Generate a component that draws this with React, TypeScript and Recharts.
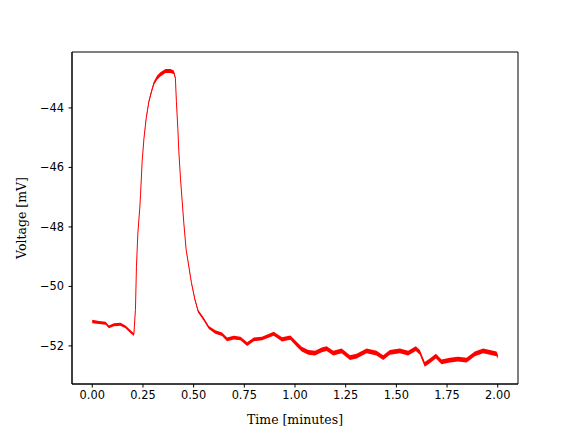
import { Line, Area, ComposedChart, XAxis, YAxis, ReferenceArea } from "recharts";

// time in minutes
const time = [
  0.0, 0.033, 0.066, 0.082, 0.107, 0.139, 0.164, 0.189, 0.205, 0.213,
  0.218, 0.225, 0.235, 0.238, 0.246, 0.255, 0.266, 0.279, 0.292, 0.304,
  0.32, 0.336, 0.361, 0.386, 0.402, 0.41, 0.415, 0.422, 0.427, 0.435,
  0.443, 0.452, 0.463, 0.476, 0.489, 0.506, 0.522, 0.55, 0.575, 0.607,
  0.64, 0.665, 0.698, 0.731, 0.764, 0.797, 0.837, 0.895, 0.936, 0.977,
  1.008, 1.033, 1.066, 1.099, 1.132, 1.156, 1.189, 1.23, 1.271, 1.304,
  1.353, 1.402, 1.435, 1.468, 1.517, 1.558, 1.596, 1.616, 1.64, 1.665,
  1.695, 1.723, 1.764, 1.804, 1.846, 1.887, 1.928, 1.961, 1.994, 2.0,
];

// mean voltage (mV)
const voltage = [
  -51.18, -51.21, -51.24, -51.36, -51.29, -51.27, -51.36, -51.52, -51.62, -50.77,
  -49.32, -48.2, -47.3, -46.92, -45.8, -45.02, -44.35, -43.79, -43.45, -43.17,
  -42.98, -42.87, -42.76, -42.76, -42.8, -43.0, -43.79, -44.68, -45.47, -46.36,
  -47.1, -47.9, -48.76, -49.32, -49.87, -50.43, -50.83, -51.1, -51.38, -51.53,
  -51.61, -51.78, -51.72, -51.75, -51.94, -51.78, -51.75, -51.59, -51.78, -51.72,
  -51.94, -52.11, -52.22, -52.24, -52.13, -52.09, -52.24, -52.17, -52.39, -52.34,
  -52.17, -52.24, -52.39, -52.22, -52.17, -52.24, -52.09, -52.22, -52.62, -52.5,
  -52.34, -52.54, -52.48, -52.44, -52.48, -52.27, -52.17, -52.22, -52.27, -52.35,
];

// half width of the noise band (mV)
const noise = [
  0.06, 0.05, 0.05, 0.05, 0.05, 0.05, 0.05, 0.05, 0.05, 0.02,
  0.02, 0.02, 0.02, 0.02, 0.02, 0.03, 0.04, 0.05, 0.06, 0.06,
  0.07, 0.07, 0.07, 0.07, 0.06, 0.04, 0.02, 0.02, 0.02, 0.02,
  0.02, 0.02, 0.02, 0.03, 0.03, 0.04, 0.05, 0.05, 0.05, 0.06,
  0.06, 0.06, 0.06, 0.06, 0.06, 0.06, 0.06, 0.07, 0.07, 0.07,
  0.08, 0.08, 0.08, 0.08, 0.08, 0.08, 0.08, 0.08, 0.08, 0.08,
  0.08, 0.08, 0.08, 0.08, 0.08, 0.08, 0.08, 0.08, 0.08, 0.08,
  0.08, 0.08, 0.08, 0.08, 0.08, 0.08, 0.08, 0.08, 0.08, 0.08,
];

const xTicks = [0, 0.25, 0.5, 0.75, 1, 1.25, 1.5, 1.75, 2];
const yTicks = [-52, -50, -48, -46, -44];
const xDomain = [-0.1, 2.1];
const yDomain = [-53.28, -42.12];

const data = time.map((t, i) => ({
  t,
  v: voltage[i],
  band: [voltage[i] - noise[i], voltage[i] + noise[i]],
}));

const tickFont = { fontFamily: "DejaVu Sans", fontSize: 11.4, fill: "#000" };
const labelFont = { fontFamily: "DejaVu Serif", fontSize: 12.5, fill: "#000" };

export default function App() {
  return (
    <div style={{ position: "absolute", left: 0, top: 0, background: "#fff" }}>
      <ComposedChart
        width={576}
        height={432}
        data={data}
        margin={{ top: 52, right: 58, bottom: 0, left: 0 }}
      >
        <XAxis
          dataKey="t"
          type="number"
          domain={xDomain}
          ticks={xTicks}
          tickFormatter={(v: number) => v.toFixed(2)}
          height={48}
          tickSize={3.5}
          tickMargin={3}
          tick={tickFont}
          stroke="#000"
          allowDataOverflow
          label={{ value: "Time [minutes]", position: "insideBottom", offset: 8, style: labelFont }}
        />
        <YAxis
          type="number"
          domain={yDomain}
          ticks={yTicks}
          tickFormatter={(v: number) => String(v).replace("-", "\u2212")}
          width={72}
          tickSize={3.5}
          tickMargin={4.5}
          tick={tickFont}
          stroke="#000"
          allowDataOverflow
          label={{ value: "Voltage [mV]", angle: -90, position: "insideLeft", offset: 22, style: { ...labelFont, textAnchor: "middle" } }}
        />
        <ReferenceArea
          x1={xDomain[0]}
          x2={xDomain[1]}
          y1={yDomain[0]}
          y2={yDomain[1]}
          fill="none"
          stroke="#000"
          strokeWidth={1}
          ifOverflow="visible"
        />
        <Area dataKey="band" stroke="none" fill="#ff0000" fillOpacity={1} isAnimationActive={false} />
        <Line dataKey="v" stroke="#ff0000" strokeWidth={1} dot={false} isAnimationActive={false} />
      </ComposedChart>
    </div>
  );
}
